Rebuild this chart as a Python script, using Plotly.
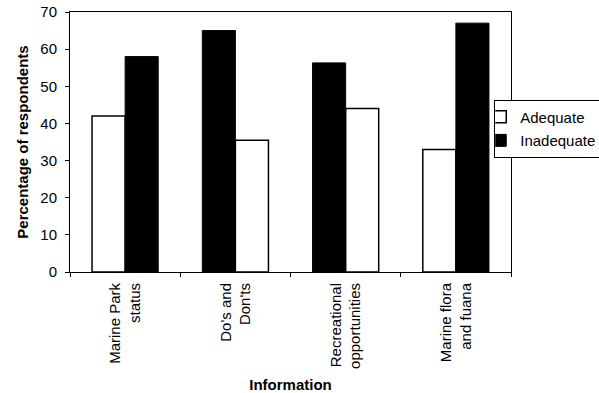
import plotly.graph_objects as go

categories = ["Marine Park<br>status", "Do's and<br>Don'ts", "Recreational<br>opportunities", "Marine flora<br>and fuana"]
adequate = [42, 35.5, 44, 33]
inadequate = [58, 65, 56.3, 67]
adequate_offset = [-0.3, 0, 0, -0.3]
inadequate_offset = [0, -0.3, -0.3, 0]
y_ticks = [0, 10, 20, 30, 40, 50, 60, 70]

FONT = "Liberation Sans, Arial, sans-serif"

fig = go.Figure()
fig.add_trace(go.Bar(
    x=categories, y=adequate, name="Adequate", width=0.3, offset=adequate_offset,
    legendgroup="a",
    marker=dict(color="white", line=dict(color="black", width=1.5)),
))
fig.add_trace(go.Bar(
    x=categories, y=inadequate, name="Inadequate", width=0.3, offset=inadequate_offset,
    legendgroup="b",
    marker=dict(color="black", line=dict(color="black", width=1)),
))

fig.update_layout(
    width=599, height=393,
    margin=dict(l=70, r=88, t=12, b=121, autoexpand=False),
    paper_bgcolor="white", plot_bgcolor="white",
    barmode="overlay",
    font=dict(family=FONT, size=15, color="black"),
    showlegend=True,
    legend=dict(
        x=0.962, y=0.663, xanchor="left", yanchor="top",
        bordercolor="black", borderwidth=1, bgcolor="white",
        font=dict(size=15), itemwidth=30, tracegroupgap=1, indentation=-15,
    ),
    xaxis=dict(
        type="category", range=[-0.5, 3.5], tickson="boundaries", automargin=False,
        ticks="outside", ticklen=4, tickcolor="black", tickangle=-90,
        ticklabelstandoff=4,
        showline=True, linecolor="black", linewidth=1, mirror=True,
        showgrid=False, zeroline=False,
        title=dict(text="<b>Information</b>", font=dict(size=15), standoff=12),
        tickfont=dict(size=15),
    ),
    yaxis=dict(
        range=[0, 70], tickvals=y_ticks, ticktext=[str(v) for v in y_ticks],
        automargin=False, ticklabelstandoff=5,
        ticks="outside", ticklen=4, tickcolor="black",
        showline=True, linecolor="black", linewidth=1, mirror=True,
        showgrid=False, zeroline=False,
        title=dict(text="<b>Percentage of respondents</b>", font=dict(size=15), standoff=8),
        tickfont=dict(size=15),
    ),
)

fig.write_html("out.html", config={"displayModeBar": False},
               post_script="document.body.style.margin='0';")
